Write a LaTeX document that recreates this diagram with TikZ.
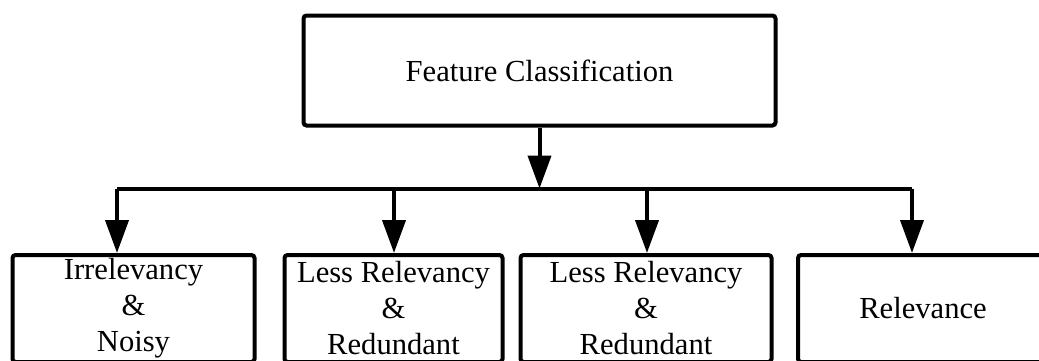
\documentclass[tikz,border=0pt]{standalone}
\usepackage{fontspec}
\setmainfont{Liberation Serif}
\usetikzlibrary{arrows.meta}

\begin{document}
\begin{tikzpicture}[x=0.5pt, y=-0.5pt,
    box/.style={draw, line width=2pt, rounded corners=1.5pt, align=center,
        font=\fontsize{15.3}{18}\selectfont, inner sep=0pt},
    arr/.style={line width=2pt, -{Triangle[length=16.5pt, width=11.5pt]}}]
    \useasboundingbox (0, 0) rectangle (1039, 360);
    \clip (0, 0) rectangle (1039, 360);

    \node[box, minimum width=236pt, minimum height=55pt] (fc) at (539.5, 70.5) {Feature Classification};

    \node[box, minimum width=121pt, minimum height=53.5pt] (irr) at (133.5, 308.5) {Irrelevancy\\\&\\Noisy};
    \node[box, minimum width=109pt, minimum height=53.5pt] (lr1) at (393.5, 308.5) {Less Relevancy\\\&\\Redundant};
    \node[box, minimum width=125.5pt, minimum height=53.5pt] (lr2) at (646, 308.5) {Less Relevancy\\\&\\Redundant};
    \node[box, minimum width=125pt, minimum height=53.5pt] (rel) at (923, 308.5) {Relevance};

    \coordinate (bus) at (539.5, 188.5);
    \coordinate (b1) at (117, 188.5);
    \coordinate (b2) at (394, 188.5);
    \coordinate (b3) at (647, 188.5);
    \coordinate (b4) at (912, 188.5);

    \draw[arr] (fc.south) -- (bus);
    \draw[line width=2pt] (b1) -- (b4);
    \draw[arr] (b1) -- (b1 |- irr.north);
    \draw[arr] (b2) -- (b2 |- lr1.north);
    \draw[arr] (b3) -- (b3 |- lr2.north);
    \draw[arr] (b4) -- (b4 |- rel.north);
\end{tikzpicture}
\end{document}
